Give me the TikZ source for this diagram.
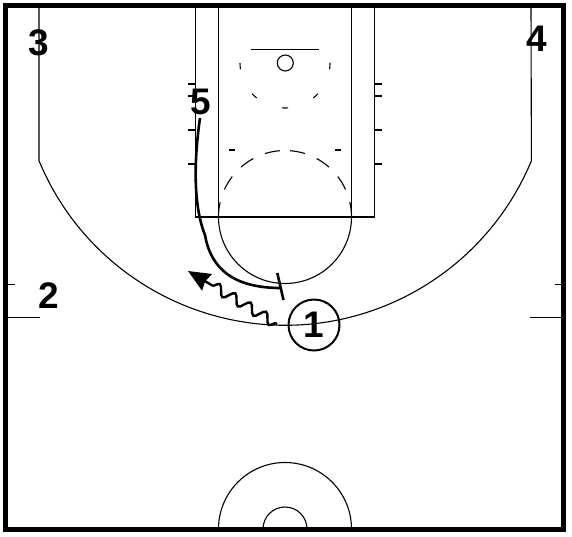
\documentclass[tikz,border=0pt]{standalone}
\usepackage{fontspec}
\setmainfont{Liberation Sans}
\usetikzlibrary{decorations.pathmorphing,arrows.meta}
\begin{document}
\begin{tikzpicture}[x=1pt,y=1pt,yscale=-1,
  court/.style={line width=1.1pt, line cap=butt},
  border/.style={line width=5pt},
  play/.style={line width=2.6pt},
  num/.style={font=\fontsize{37}{37}\selectfont\bfseries, inner sep=0pt},
  dribble/.style={line width=2.4pt, decorate,
    decoration={snake, amplitude=5pt, segment length=18pt, pre length=1pt, post length=20pt}},
  playercircle/.style={circle, draw, line width=2pt, minimum size=51pt, inner sep=0pt,
    font=\fontsize{37}{37}\selectfont\bfseries}]
\useasboundingbox (0,0) rectangle (572,536);
% outer border
\draw[border] (5.5,5) rectangle (563,529);
% three-point line
\draw[court] (39,6) -- (39,160.7) arc[start angle=157.5, end angle=22.5, radius=266.5] -- (531,6);
% lane
\draw[court] (195.5,6) -- (195.5,217) -- (374.5,217) -- (374.5,6);
\draw[court] (218.5,6) -- (218.5,217);
\draw[court] (351.5,6) -- (351.5,217);
% lane hash marks
\foreach \yy in {84,96,130,164}{
  \draw[court] (188,\yy) -- (195.5,\yy);
  \draw[court] (374.5,\yy) -- (382,\yy);
}
% backboard and rim
\draw[court] (251,49.3) -- (318.7,49.3);
\draw[court] (285.3,63) circle[radius=8];
% restricted area dashes
\foreach \a in {4,47,90,133,176}{
  \draw[court] ({285+45*cos(\a-4)},{63+45*sin(\a-4)}) arc[start angle=\a-4, end angle=\a+4, radius=45];
}
% free-throw circle: lower solid half
\draw[court] (218.5,217) arc[start angle=180, end angle=0, radius=66.5];
% free-throw circle: upper dashed half
\foreach \t in {11,35,59}{
  \draw[court] ({285+66.5*cos(270-\t-6.5)},{217+66.5*sin(270-\t-6.5)}) arc[start angle=270-\t-6.5, end angle=270-\t+6.5, radius=66.5];
  \draw[court] ({285+66.5*cos(270+\t-6.5)},{217+66.5*sin(270+\t-6.5)}) arc[start angle=270+\t-6.5, end angle=270+\t+6.5, radius=66.5];
}
\draw[court] ({285+66.5*cos(180)},{217+66.5*sin(180)}) arc[start angle=180, end angle=193, radius=66.5];
\draw[court] ({285+66.5*cos(347)},{217+66.5*sin(347)}) arc[start angle=347, end angle=360, radius=66.5];
% small marks
\draw[court] (229,150) -- (235,150);
\draw[court] (335,150) -- (341,150);
% side marks
\draw[court] (8,284.3) -- (15,284.3);
\draw[court] (8,317.3) -- (40,317.3);
\draw[court] (555,284.3) -- (561,284.3);
\draw[court] (530,317.3) -- (561,317.3);
% center circles at half-court
\draw[court] (218.5,529) arc[start angle=180, end angle=360, radius=66.5];
\draw[court] (263,529) arc[start angle=180, end angle=360, radius=22];
% players
\node[num] (p3) at (38.5,42.5) {3};
\node[num] (p4) at (536.5,38.5) {4};
\node[num] (p2) at (48.8,296) {2};
\node[num] (p5) at (201,102) {5};
\node[playercircle] (p1) at (314,325) {1};
% screen path of 5
\coordinate (s0) at (200,118);
\coordinate (s1) at (205,235);
\coordinate (s2) at (281,288);
\coordinate (bar1) at (277.3,273);
\coordinate (bar2) at (283.5,300);
\draw[play] (s0) .. controls (194,160) and (193,205) .. (s1) .. controls (211,270) and (235,288) .. (s2);
\draw[play] (bar1) -- (bar2);
% dribble of 1
\coordinate (d0) at (277,324);
\coordinate (d1) at (188,271);
\draw[dribble, -{Stealth[length=22pt,width=19pt,inset=2pt]}] (d0) -- (d1);
\end{tikzpicture}
\end{document}
